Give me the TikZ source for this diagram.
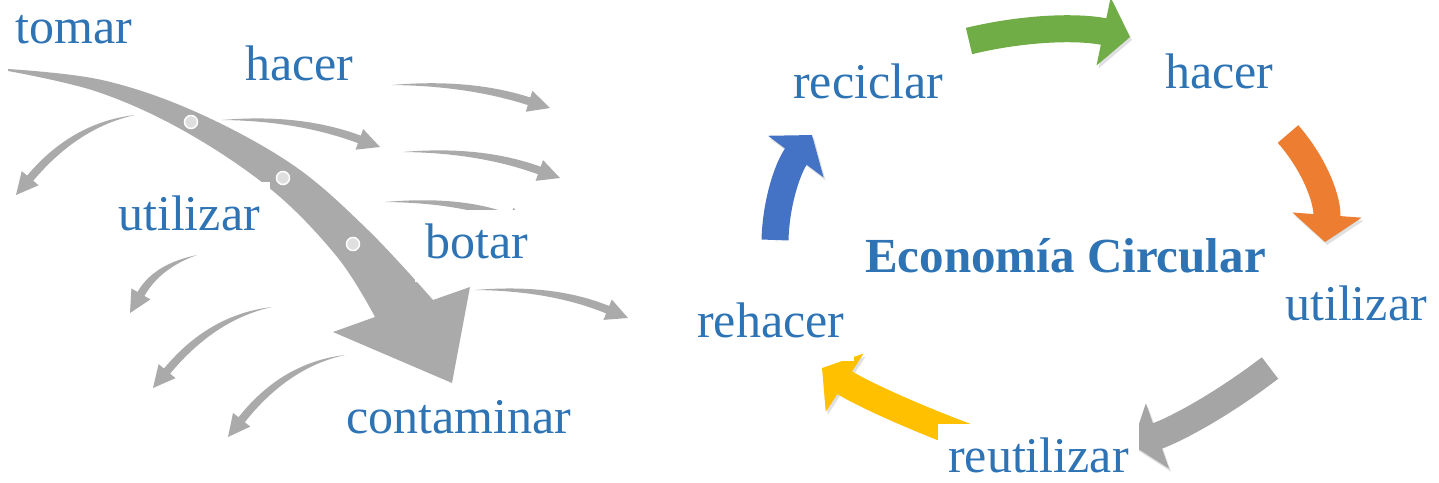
\documentclass[tikz,border=0pt]{standalone}
\usepackage{fontspec}
\setmainfont{Liberation Serif}
\usetikzlibrary{arrows.meta,calc}

\definecolor{wordblue}{HTML}{2E74B5}
\definecolor{flowgray}{HTML}{AAAAAA}
\definecolor{cgreen}{HTML}{70AD47}
\definecolor{corange}{HTML}{ED7D31}
\definecolor{cgray}{HTML}{A5A5A5}
\definecolor{cyellow}{HTML}{FFC000}
\definecolor{cblue}{HTML}{4472C4}

\begin{document}
\begin{tikzpicture}[x=1pt,y=-1pt,
    lbl/.style={text=wordblue,fill=white,anchor=base west,
                font=\fontsize{50}{60}\selectfont,
                inner xsep=10pt,inner ysep=12pt,text height=36pt,text depth=12pt},
    title/.style={lbl,fill=none,font=\fontsize{49}{59}\selectfont\bfseries},
    bead/.style={circle,fill=gray!25,draw=white,line width=1.5pt,
                 inner sep=0pt,minimum size=13pt},
    ring/.style={line width=27pt,-{Triangle[length=27pt,width=68pt]},
                 preaction={draw=black,opacity=0.12,
                            transform canvas={shift={(2,3)}}}}]

  \useasboundingbox (0,0) rectangle (1439,482);

  % linear economy: small side arrows (start / bend / tip)
  \foreach \sx/\sy/\cx/\cy/\tx/\ty in {392/85/469/82/550/108, 222/120/299/117/380/147,
      403/152/480/149/560/178, 385/202/460/199/530/226, 475/290/552/287/628/318,
      135/115/75/125/16/195, 197/255/157/266/130/313, 272/307/212/317/153/388,
      345/355/285/365/228/437}{
    \coordinate (tip) at (\tx,\ty);
    \coordinate (bend) at (\cx,\cy);
    \coordinate (base) at ($(tip)!22pt!(bend)$);
    \coordinate (bu) at ($(bend)!4pt!90:(tip)$);
    \coordinate (bl) at ($(bend)!4pt!-90:(tip)$);
    \coordinate (eu) at ($(base)!4pt!90:(tip)$);
    \coordinate (el) at ($(base)!4pt!-90:(tip)$);
    \fill[flowgray] (\sx,\sy) .. controls ($(\sx,\sy)!0.667!(bu)$) and ($(eu)!0.667!(bu)$) .. (eu)
      -- ($(base)!11pt!90:(tip)$) -- (tip) -- ($(base)!11pt!-90:(tip)$)
      -- (el) .. controls ($(el)!0.667!(bl)$) and ($(\sx,\sy)!0.667!(bl)$) .. (\sx,\sy) -- cycle;
  }

  % main arrow
  \fill[flowgray] plot[smooth,tension=0.6] coordinates
      {(8,69) (102,80) (196,112) (293,165) (368,230) (433,300)}
    -- (470,287) -- (452,383) -- (333,332)
    -- plot[smooth,tension=0.6] coordinates
      {(375,317) (338,258) (273,191) (186,132) (98,92) (8,71)} -- cycle;
  \node[bead] (b1) at (191,122) {};
  \node[bead] (b2) at (283,178) {};
  \node[bead] (b3) at (353,244) {};

  % circular economy
  \draw[ring,cgreen]  (969,41)   .. controls (1023,28)  and (1077,26)  .. (1130,37);
  \draw[ring,corange] (1288,134) .. controls (1316,166) and (1328,202) .. (1325,242);
  \draw[ring,cgray]   (1270,368) .. controls (1223,404) and (1177,429) .. (1132,445);
  \draw[ring,cyellow] (975,440)  .. controls (910,416)  and (859,392)  .. (822,368);
  \draw[ring,cblue]   (775,240)  .. controls (776,202)  and (788,167)  .. (812,135);

  \node[lbl] (tomar)  at (5,43)    {tomar};
  \node[lbl] (hacerL) at (235,80)  {hacer};
  \node[lbl] (utilL)  at (108,230) {utilizar};
  \node[lbl] (botar)  at (415,258) {botar};
  \node[lbl] (contam) at (336,433) {contaminar};

  \node[lbl] (recic)  at (783,98)   {reciclar};
  \node[lbl] (hacerR) at (1155,88)  {hacer};
  \node[lbl] (utilR)  at (1275,320) {utilizar};
  \node[lbl] (reut)   at (938,472)  {reutilizar};
  \node[lbl] (rehac)  at (687,337)  {rehacer};
  \node[title] (eco)  at (855,272)  {Economía Circular};
\end{tikzpicture}
\end{document}
